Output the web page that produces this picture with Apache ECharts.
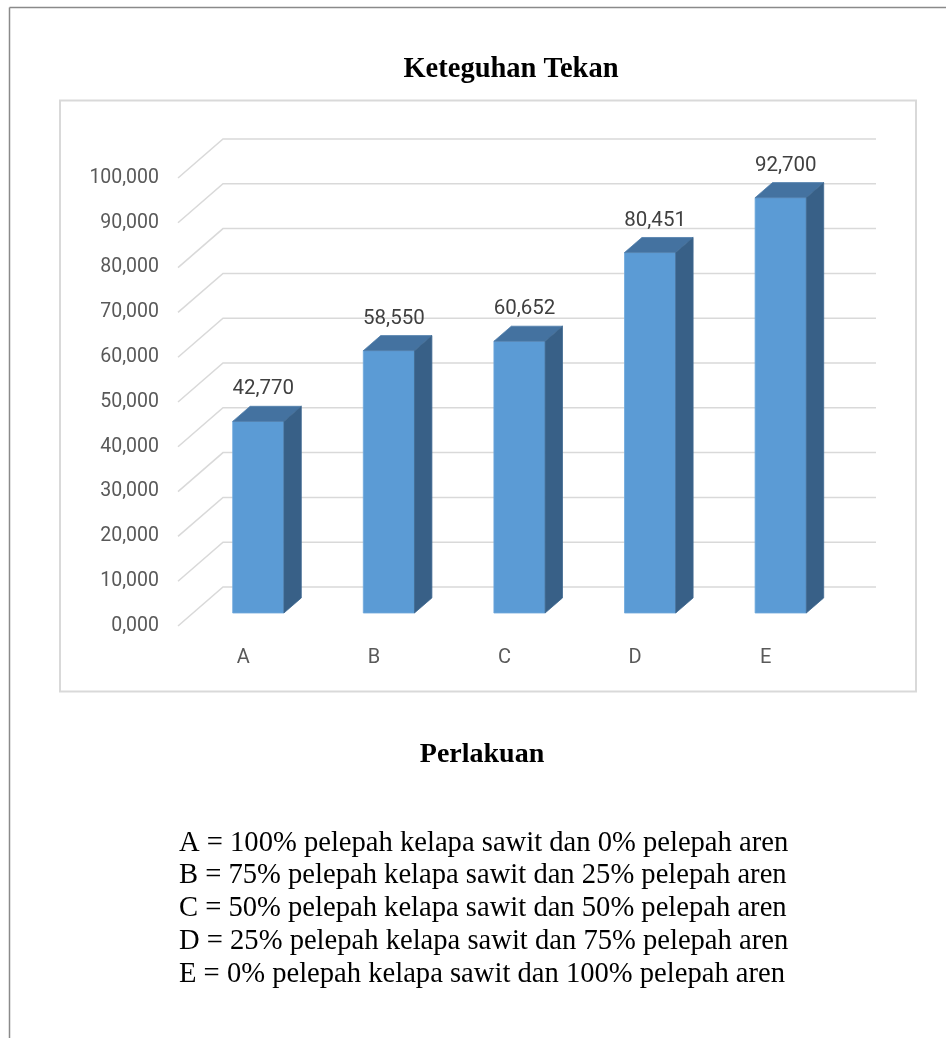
<!DOCTYPE html>
<html>
<head>
<meta charset="utf-8">
<script src="https://cdn.jsdelivr.net/npm/echarts@6/dist/echarts.min.js"></script>
<style>
  html, body { margin: 0; padding: 0; background: #ffffff; }
  #chart { width: 946px; height: 1038px; }
</style>
</head>
<body>
<div id="chart"></div>
<script>
const chartTitle = 'Keteguhan Tekan';
const axisTitle = 'Perlakuan';
const categories = ['A', 'B', 'C', 'D', 'E'];
const values = [42.770, 58.550, 60.652, 80.451, 92.700];
const yTicks = [0, 10, 20, 30, 40, 50, 60, 70, 80, 90, 100];
const legendLines = [
  'A = 100% pelepah kelapa sawit dan 0% pelepah aren',
  'B = 75% pelepah kelapa sawit dan 25% pelepah aren',
  'C = 50% pelepah kelapa sawit dan 50% pelepah aren',
  'D = 25% pelepah kelapa sawit dan 75% pelepah aren',
  'E = 0% pelepah kelapa sawit dan 100% pelepah aren'
];

function fmt(v) { return v.toFixed(3).replace('.', ','); }

// depth (perspective) vector of the floor/wall, in pixels
const DX = 45, DY = -39;
const F1 = 1 / 3;      // depth fraction of the bar front face
const F2 = 0.72;       // depth fraction of the bar back face
const HALF = 0.196;    // half width of the bar front face, as a share of the band

const chart = echarts.init(document.getElementById('chart'), null, { renderer: 'canvas' });

const graphics = [
  { type: 'line', shape: { x1: 9.5, y1: 7.5, x2: 946, y2: 7.5 }, style: { stroke: '#8a8a8a', lineWidth: 1.5 }, silent: true },
  { type: 'line', shape: { x1: 9.5, y1: 7.5, x2: 9.5, y2: 1038 }, style: { stroke: '#8a8a8a', lineWidth: 1.5 }, silent: true },
  { type: 'rect', shape: { x: 60, y: 100.5, width: 856, height: 591 }, style: { fill: 'none', stroke: '#d9d9d9', lineWidth: 2 }, silent: true, z: -1 },
  { type: 'text', x: 511, y: 70, style: { text: chartTitle, font: 'bold 28.5px "Liberation Serif", "Times New Roman", serif', fill: '#000', textAlign: 'center', textVerticalAlign: 'middle' } },
  { type: 'text', x: 482, y: 755, style: { text: axisTitle, font: 'bold 28px "Liberation Serif", "Times New Roman", serif', fill: '#000', textAlign: 'center', textVerticalAlign: 'middle' } }
];
legendLines.forEach(function (t, i) {
  graphics.push({ type: 'text', x: 179, y: 843 + i * 32.75, style: { text: t, font: '28.6px "Liberation Serif", "Times New Roman", serif', fill: '#000', textAlign: 'left', textVerticalAlign: 'middle' } });
});

const option = {
  animation: false,
  backgroundColor: '#ffffff',
  grid: { left: 178, right: 115, top: 178, bottom: 412, containLabel: false },
  xAxis: {
    type: 'category',
    data: categories,
    axisLine: { show: false },
    axisTick: { show: false },
    splitLine: { show: false },
    axisLabel: { margin: 22, color: '#595959', fontSize: 20, fontFamily: 'Roboto, "Open Sans", sans-serif' }
  },
  yAxis: {
    type: 'value',
    min: 0, max: 100, interval: 10,
    axisLine: { show: false },
    axisTick: { show: false },
    splitLine: { show: false },
    axisLabel: { margin: 19, color: '#595959', fontSize: 19.5, fontFamily: 'Roboto, "Open Sans", sans-serif', formatter: fmt, padding: [6, 0, 0, 0] }
  },
  series: [
    {
      type: 'custom',
      name: 'grid',
      silent: true,
      z: 1,
      data: yTicks.map(function (v) { return [0, v]; }),
      encode: { x: 0, y: 1 },
      renderItem: function (params, api) {
        const cs = params.coordSys;
        const p = api.coord([0, api.value(1)]);
        const x0 = cs.x;
        const x1 = cs.x + cs.width + DX;
        return {
          type: 'polyline',
          shape: { points: [[x0, p[1]], [x0 + DX, p[1] + DY], [x1, p[1] + DY]] },
          style: { stroke: '#d9d9d9', lineWidth: 1.5, fill: 'none' }
        };
      }
    },
    {
      type: 'custom',
      name: 'Keteguhan Tekan',
      z: 2,
      data: values.map(function (v, i) { return [i, v]; }),
      encode: { x: 0, y: 1 },
      renderItem: function (params, api) {
        const top = api.coord([api.value(0), api.value(1)]);
        const base = api.coord([api.value(0), 0]);
        const band = api.size([1, 0])[0];
        const hw = band * HALF;
        const ox = DX * F1, oy = DY * F1;
        const dx = DX * (F2 - F1), dy = DY * (F2 - F1);
        const L = top[0] + ox - hw, R = top[0] + ox + hw;
        const T = top[1] + oy, B = base[1] + oy;
        return {
          type: 'group',
          children: [
            { type: 'polygon', shape: { points: [[L, T], [R, T], [R, B], [L, B]] },
              style: { fill: '#5b9bd5', stroke: '#6fa8dc', lineWidth: 0.8 } },
            { type: 'polygon', shape: { points: [[L, T], [R, T], [R + dx, T + dy], [L + dx, T + dy]] },
              style: { fill: '#4472a0', stroke: '#4f7eab', lineWidth: 0.8 } },
            { type: 'polygon', shape: { points: [[R, T], [R + dx, T + dy], [R + dx, B + dy], [R, B]] },
              style: { fill: '#386087', stroke: '#3f6890', lineWidth: 0.8 } },
            { type: 'text', x: top[0] + ox + 5, y: T + dy - 17,
              style: { text: fmt(api.value(1)), fill: '#404040', font: '20.5px Roboto, "Open Sans", sans-serif', textAlign: 'center', textVerticalAlign: 'middle' } }
          ]
        };
      }
    }
  ],
  graphic: graphics
};
chart.setOption(option);
</script>
</body>
</html>
